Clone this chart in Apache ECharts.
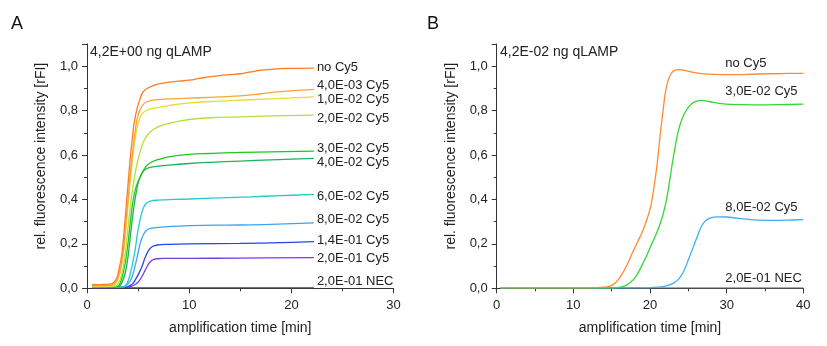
<!DOCTYPE html>
<html>
<head>
<meta charset="utf-8">
<script src="https://cdn.jsdelivr.net/npm/echarts@6/dist/echarts.min.js"></script>
<style>
html,body{margin:0;padding:0;background:#fff;}
#chart{width:827px;height:346px;}
</style>
</head>
<body>
<div id="chart"></div>
<script>
// ---------- Panel A data: [time (min), relative fluorescence] ----------
const namesA = ['no Cy5','4,0E-03 Cy5','1,0E-02 Cy5','2,0E-02 Cy5','3,0E-02 Cy5','4,0E-02 Cy5','6,0E-02 Cy5','8,0E-02 Cy5','1,4E-01 Cy5','2,0E-01 Cy5','2,0E-01 NEC'];
const a_noCy5 = [[0.5,0.016],[1.5,0.017],[2.0,0.018],[2.5,0.022],[2.9,0.045],[3.1,0.08],[3.4,0.15],[3.6,0.24],[3.8,0.35],[4.0,0.46],[4.2,0.57],[4.4,0.66],[4.6,0.74],[4.9,0.81],[5.2,0.855],[5.5,0.885],[6.0,0.903],[7.0,0.92],[8,0.928],[9,0.933],[10,0.937],[11,0.945],[12,0.953],[13,0.958],[14,0.962],[15,0.966],[16,0.974],[17,0.982],[18,0.986],[19,0.989],[20,0.99],[22.2,0.991]];
const a_4_0E03 = [[0.5,0.012],[2.0,0.012],[2.5,0.015],[2.9,0.035],[3.2,0.075],[3.5,0.15],[3.75,0.26],[4.0,0.39],[4.25,0.52],[4.5,0.63],[4.75,0.72],[5.0,0.78],[5.38,0.82],[5.87,0.84],[7,0.85],[9,0.854],[11,0.858],[13,0.862],[15,0.866],[17,0.876],[19,0.886],[21,0.892],[22.2,0.896]];
const a_1_0E02 = [[0.5,0.01],[2.5,0.012],[2.95,0.03],[3.25,0.07],[3.55,0.15],[3.8,0.26],[4.05,0.39],[4.3,0.51],[4.56,0.62],[4.8,0.7],[5.05,0.75],[5.3,0.78],[5.6,0.795],[6,0.805],[7,0.815],[8,0.823],[10,0.835],[13,0.843],[16,0.849],[20,0.857],[22.2,0.862]];
const a_2_0E02 = [[0.5,0.008],[2.8,0.01],[3.1,0.025],[3.35,0.055],[3.6,0.11],[3.85,0.2],[4.1,0.31],[4.35,0.41],[4.6,0.49],[4.85,0.55],[5.1,0.6],[5.4,0.645],[5.7,0.675],[6.2,0.705],[7,0.728],[8,0.743],[10,0.76],[12,0.768],[15,0.772],[18,0.776],[22.2,0.78]];
const a_3_0E02 = [[0.5,0.007],[3.0,0.009],[3.3,0.03],[3.6,0.08],[3.9,0.16],[4.15,0.26],[4.4,0.36],[4.65,0.43],[4.9,0.47],[5.2,0.5],[5.5,0.53],[5.9,0.555],[6.4,0.57],[7,0.58],[8,0.592],[10,0.603],[12,0.607],[15,0.612],[18,0.614],[22.2,0.618]];
const a_4_0E02 = [[0.5,0.006],[3.1,0.008],[3.4,0.025],[3.75,0.07],[4.05,0.155],[4.3,0.26],[4.6,0.37],[4.85,0.44],[5.1,0.49],[5.4,0.52],[5.7,0.535],[6.1,0.543],[7,0.55],[8,0.555],[10,0.562],[12,0.567],[15,0.573],[18,0.578],[22.2,0.585]];
const a_6_0E02 = [[0.5,0.005],[3.4,0.006],[3.7,0.01],[3.95,0.025],[4.2,0.06],[4.45,0.11],[4.7,0.17],[4.95,0.25],[5.2,0.31],[5.5,0.36],[5.8,0.383],[6.2,0.393],[7,0.397],[8.5,0.4],[10,0.402],[13,0.407],[16,0.412],[19,0.417],[22.2,0.423]];
const a_8_0E02 = [[0.5,0.004],[3.5,0.005],[3.8,0.01],[4.25,0.035],[4.5,0.065],[4.75,0.11],[5.0,0.16],[5.25,0.21],[5.5,0.24],[5.8,0.26],[6.2,0.27],[7,0.274],[10,0.282],[15,0.285],[18,0.288],[22.2,0.295]];
const a_1_4E01 = [[0.5,0.003],[3.8,0.004],[4.1,0.01],[4.45,0.02],[4.75,0.04],[5.05,0.065],[5.4,0.1],[5.7,0.14],[6.05,0.172],[6.4,0.188],[6.9,0.195],[8,0.198],[10,0.2],[15,0.202],[19,0.206],[22.2,0.21]];
const a_2_0E01 = [[0.5,0.003],[4.0,0.004],[4.4,0.01],[4.75,0.018],[5.05,0.03],[5.4,0.055],[5.7,0.082],[6.0,0.108],[6.35,0.126],[6.8,0.133],[7.5,0.135],[10,0.135],[15,0.136],[22.2,0.138]];
const a_NEC = [[0.5,0.002],[5,0.002],[10,0.002],[15,0.002],[22.2,0.002]];
const dataA = [a_noCy5,a_4_0E03,a_1_0E02,a_2_0E02,a_3_0E02,a_4_0E02,a_6_0E02,a_8_0E02,a_1_4E01,a_2_0E01,a_NEC];

// ---------- Panel B data ----------
const namesB = ['no Cy5','3,0E-02 Cy5','8,0E-02 Cy5','2,0E-01 NEC'];
const b_noCy5 = [[0.5,0.003],[5,0.003],[10,0.003],[13,0.003],[14,0.005],[14.8,0.01],[15.5,0.025],[16.2,0.055],[17,0.105],[17.7,0.16],[18.4,0.21],[19.0,0.255],[19.6,0.31],[20.1,0.37],[20.5,0.45],[20.9,0.55],[21.3,0.68],[21.7,0.8],[22.1,0.9],[22.6,0.958],[23.1,0.979],[23.8,0.985],[25,0.977],[26.5,0.968],[28.5,0.963],[31,0.962],[34,0.965],[37,0.967],[40,0.968]];
const b_3_0E02 = [[0.5,0.002],[10,0.002],[15,0.002],[16,0.004],[16.8,0.012],[17.5,0.028],[18.2,0.055],[18.9,0.1],[19.6,0.15],[20.3,0.205],[21,0.26],[21.6,0.32],[22.1,0.39],[22.5,0.47],[22.9,0.56],[23.3,0.64],[23.7,0.71],[24.2,0.765],[24.8,0.805],[25.4,0.83],[26.1,0.843],[26.7,0.846],[27.8,0.84],[29,0.833],[30.5,0.828],[33.5,0.826],[37,0.827],[40,0.829]];
const b_8_0E02 = [[0.5,0.002],[10,0.002],[20,0.003],[21,0.005],[22,0.01],[23,0.022],[23.7,0.04],[24.3,0.07],[24.8,0.11],[25.3,0.155],[25.8,0.2],[26.3,0.245],[26.8,0.285],[27.3,0.305],[27.9,0.317],[28.8,0.322],[30,0.321],[31.5,0.315],[33.5,0.308],[36,0.306],[38,0.307],[40,0.309]];
const b_NEC = [[0.5,0.001],[10,0.001],[20,0.001],[30,0.001],[40,0.001]];
const dataB = [b_noCy5,b_3_0E02,b_8_0E02,b_NEC];

// tick settings
const xMaxA = 30, xMaxB = 40, xStep = 10;
const yMin = 0, yMax = 1.1, yStep = 0.2;

// ---------- styles ----------
const colorsA = ['#ff7b22','#f4a63c','#e6dc34','#b2e23a','#1ec81e','#20b25e','#22cccc','#3aa6f0','#2846e4','#7b3ae4','#444444'];
const offsetsA = [[3,-1],[3,-4],[3,3],[3,3],[3,-3],[3,4],[3,2],[3,-3],[3,-1],[3,1],[3,-6]];
const colorsB = ['#ff8a36','#36d636','#3eaef4','#555555'];
const offsetsB = [[-78,-10],[-78,-13],[-78,-12],[-78,-10]];

const FONT = 'Liberation Sans, Arial, sans-serif';
const fmt = v => v.toFixed(1).replace('.', ',');

function xAxis(idx, max) {
  return {
    gridIndex: idx, type: 'value', min: 0, max: max, interval: xStep,
    name: 'amplification time [min]', nameLocation: 'middle', nameGap: 33,
    nameTextStyle: {fontFamily: FONT, fontSize: 14, color: '#222'},
    axisLine: {show: true, onZero: false, lineStyle: {color: '#333', width: 1}},
    axisTick: {show: true, inside: false, length: 5, lineStyle: {color: '#333'}},
    minorTick: {show: true, splitNumber: 2, length: 3, lineStyle: {color: '#333'}},
    axisLabel: {fontFamily: FONT, fontSize: 13, color: '#222', margin: 11},
    splitLine: {show: false}
  };
}
function yAxis(idx) {
  return {
    gridIndex: idx, type: 'value', min: yMin, max: yMax, interval: yStep,
    name: 'rel. fluorescence intensity [rFI]', nameLocation: 'middle', nameGap: 39,
    nameTextStyle: {fontFamily: FONT, fontSize: 14, color: '#222', padding: [0,0,0,20]},
    axisLine: {show: true, onZero: false, lineStyle: {color: '#333', width: 1}},
    axisTick: {show: true, inside: false, length: 5, lineStyle: {color: '#333'}},
    minorTick: {show: true, splitNumber: 2, length: 3, lineStyle: {color: '#333'}},
    axisLabel: {fontFamily: FONT, fontSize: 13, color: '#222', margin: 9, showMaxLabel: false,
      formatter: v => (v > 1.05 ? '' : fmt(v))},
    splitLine: {show: false}
  };
}
function mkSeries(names, data, colors, offsets, idx) {
  return names.map((n, i) => ({
    name: n, type: 'line', xAxisIndex: idx, yAxisIndex: idx,
    data: data[i], showSymbol: false, symbol: 'none', smooth: 0.4,
    lineStyle: {color: colors[i], width: 1.3},
    itemStyle: {color: colors[i]},
    z: names.length - i,
    endLabel: {show: true, formatter: n, distance: 0, offset: offsets[i],
      fontFamily: FONT, fontSize: 13, color: '#222'},
    animation: false
  }));
}

const chart = echarts.init(document.getElementById('chart'), null, {renderer: 'canvas'});
chart.setOption({
  animation: false,
  backgroundColor: '#fff',
  title: [
    {text: 'A', left: 11, top: 15, padding: 0, textStyle: {fontFamily: FONT, fontSize: 18, fontWeight: 'normal', color: '#111'}},
    {text: 'B', left: 427, top: 15, padding: 0, textStyle: {fontFamily: FONT, fontSize: 18, fontWeight: 'normal', color: '#111'}},
    {text: '4,2E+00 ng qLAMP', left: 90, top: 45, padding: 0, textStyle: {fontFamily: FONT, fontSize: 14, fontWeight: 'normal', color: '#222'}},
    {text: '4,2E-02 ng qLAMP', left: 500, top: 45, padding: 0, textStyle: {fontFamily: FONT, fontSize: 14, fontWeight: 'normal', color: '#222'}}
  ],
  grid: [
    {left: 87, top: 44, width: 306.6, height: 244.3, containLabel: false},
    {left: 496.7, top: 44, width: 306.6, height: 244.3, containLabel: false}
  ],
  xAxis: [xAxis(0, xMaxA), xAxis(1, xMaxB)],
  yAxis: [yAxis(0), yAxis(1)],
  series: mkSeries(namesA, dataA, colorsA, offsetsA, 0).concat(mkSeries(namesB, dataB, colorsB, offsetsB, 1))
});
</script>
</body>
</html>
